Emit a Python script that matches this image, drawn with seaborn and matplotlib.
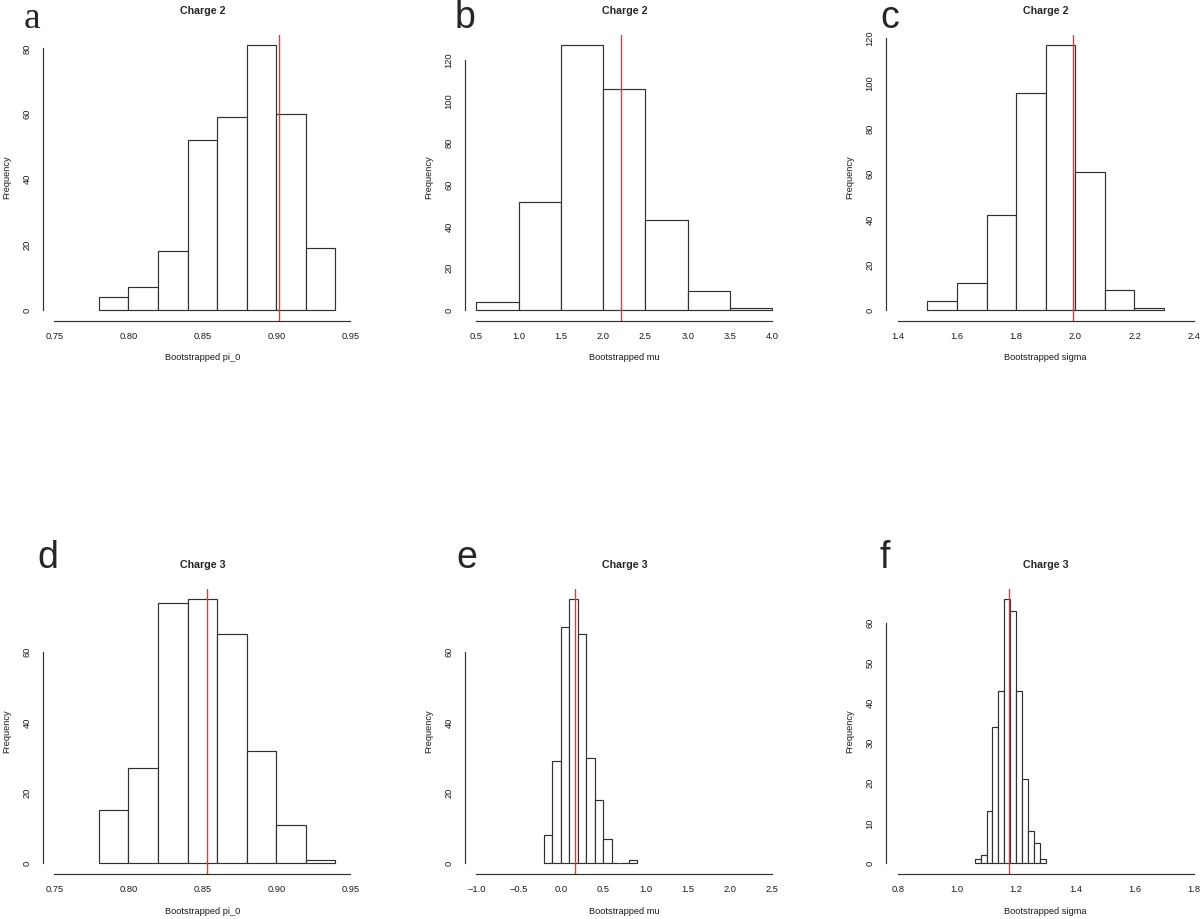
import numpy as np
import pandas as pd
import matplotlib
matplotlib.use('Agg')
import matplotlib.pyplot as plt
import seaborn as sns

# Bins (edges) and counts
edges_a = [0.78, 0.80, 0.82, 0.84, 0.86, 0.88, 0.90, 0.92, 0.94]
counts_a = [4, 7, 18, 52, 59, 81, 60, 19]
red_a = 0.902

edges_b = [0.5, 1.0, 1.5, 2.0, 2.5, 3.0, 3.5, 4.0]
counts_b = [4, 52, 127, 106, 43, 9, 1]
red_b = 2.21

edges_c = [1.5, 1.6, 1.7, 1.8, 1.9, 2.0, 2.1, 2.2, 2.3]
counts_c = [4, 12, 42, 96, 117, 61, 9, 1]
red_c = 1.993

edges_d = [0.78, 0.80, 0.82, 0.84, 0.86, 0.88, 0.90, 0.92, 0.94]
counts_d = [15, 27, 74, 75, 65, 32, 11, 1]
red_d = 0.853

edges_e = [-0.2, -0.1, 0.0, 0.1, 0.2, 0.3, 0.4, 0.5, 0.6, 0.7, 0.8, 0.9]
counts_e = [8, 29, 67, 75, 65, 30, 18, 7, 0, 0, 1]
red_e = 0.17

edges_f = [1.06, 1.08, 1.10, 1.12, 1.14, 1.16, 1.18, 1.20, 1.22, 1.24, 1.26, 1.28, 1.30]
counts_f = [1, 2, 13, 34, 43, 66, 63, 43, 21, 8, 5, 1]
red_f = 1.175

# Ticks
xticks_pi = [0.75, 0.80, 0.85, 0.90, 0.95]
xticks_mu2 = [0.5, 1.0, 1.5, 2.0, 2.5, 3.0, 3.5, 4.0]
xticks_sig2 = [1.4, 1.6, 1.8, 2.0, 2.2, 2.4]
xticks_mu3 = [-1.0, -0.5, 0.0, 0.5, 1.0, 1.5, 2.0, 2.5]
xticks_sig3 = [0.8, 1.0, 1.2, 1.4, 1.6, 1.8]
xlabels_pi = ['0.75', '0.80', '0.85', '0.90', '0.95']
xlabels_mu2 = ['0.5', '1.0', '1.5', '2.0', '2.5', '3.0', '3.5', '4.0']
xlabels_sig2 = ['1.4', '1.6', '1.8', '2.0', '2.2', '2.4']
xlabels_mu3 = ['\u22121.0', '\u22120.5', '0.0', '0.5', '1.0', '1.5', '2.0', '2.5']
xlabels_sig3 = ['0.8', '1.0', '1.2', '1.4', '1.6', '1.8']

yticks_a = [0, 20, 40, 60, 80]
yticks_b = [0, 20, 40, 60, 80, 100, 120]
yticks_d = [0, 20, 40, 60]
yticks_f = [0, 10, 20, 30, 40, 50, 60]

titles = ['Charge 2', 'Charge 2', 'Charge 2', 'Charge 3', 'Charge 3', 'Charge 3']
xnames = ['Bootstrapped pi_0', 'Bootstrapped mu', 'Bootstrapped sigma',
          'Bootstrapped pi_0', 'Bootstrapped mu', 'Bootstrapped sigma']
letters = ['a', 'b', 'c', 'd', 'e', 'f']

panels = [
    (edges_a, counts_a, red_a, xticks_pi, xlabels_pi, yticks_a),
    (edges_b, counts_b, red_b, xticks_mu2, xlabels_mu2, yticks_b),
    (edges_c, counts_c, red_c, xticks_sig2, xlabels_sig2, yticks_b),
    (edges_d, counts_d, red_d, xticks_pi, xlabels_pi, yticks_d),
    (edges_e, counts_e, red_e, xticks_mu3, xlabels_mu3, yticks_d),
    (edges_f, counts_f, red_f, xticks_sig3, xlabels_sig3, yticks_f),
]

sns.set_style('white')
plt.rcParams['font.family'] = ['Liberation Sans', 'DejaVu Sans']

W, H = 1200, 919
fig = plt.figure(figsize=(W / 100, H / 100), dpi=100)

# plot regions in pixels
lefts = [42.5, 464.5, 885.9]
width = 319.6
rows = [(34.5, 320.6), (588.6, 873.9)]

# letter positions (x, baseline) in pixels
letter_pos = [(24, 28), (455, 28), (880, 28), (37, 568), (456, 568), (880, 568)]

linecol = '#303030'

for i, (edges, counts, red, xt, xl, yt) in enumerate(panels):
    top, bottom = rows[i // 3]
    left = lefts[i % 3]
    ax = fig.add_axes([left / W, 1 - bottom / H, width / W, (bottom - top) / H])

    mids = [(edges[k] + edges[k + 1]) / 2 for k in range(len(counts))]
    df = pd.DataFrame({'valor': mids, 'n': counts})
    sns.histplot(data=df, x='valor', weights='n', bins=edges, ax=ax,
                 color='white', edgecolor=linecol, linewidth=0.85, alpha=1)

    ax.axvline(red, color='#ff2a2a', lw=1.0)

    # R style limits: 4% padding
    rx = xt[-1] - xt[0]
    ax.set_xlim(xt[0] - 0.04 * rx, xt[-1] + 0.04 * rx)
    ymax = max(counts)
    ax.set_ylim(-0.04 * ymax, 1.04 * ymax)

    ax.set_xticks(xt, labels=xl)
    ax.set_yticks(yt, labels=[str(v) for v in yt])
    ax.tick_params(axis='both', length=3.6, width=0.85, pad=4.5,
                   labelsize=6.7, color=linecol, labelcolor='#1a1a1a')
    ax.tick_params(axis='y', labelrotation=90)
    for t in ax.get_yticklabels():
        t.set_verticalalignment('center')

    for s in ['top', 'right']:
        ax.spines[s].set_visible(False)
    ax.spines['left'].set_bounds(yt[0], yt[-1])
    ax.spines['bottom'].set_bounds(xt[0], xt[-1])
    for s in ['left', 'bottom']:
        ax.spines[s].set_color(linecol)
        ax.spines[s].set_linewidth(0.85)

    ax.set_xlabel(xnames[i], fontsize=6.7, labelpad=9, color='#1a1a1a')
    ax.set_ylabel('Frequency', fontsize=6.7, labelpad=8, color='#1a1a1a')
    ax.set_title(titles[i], fontsize=7.7, fontweight='bold', pad=14.5)

    lx, ly = letter_pos[i]
    fam = ['Liberation Serif'] if i == 0 else ['Liberation Sans']
    fig.text(lx / W, 1 - ly / H, letters[i], fontsize=27, family=fam,
             va='baseline', ha='left')

fig.savefig('out.png', dpi=100)
